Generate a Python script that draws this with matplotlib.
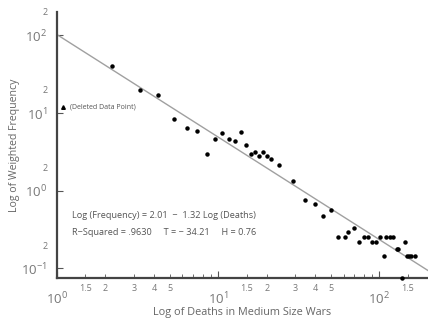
import numpy as np
import matplotlib
matplotlib.use("Agg")
import matplotlib.pyplot as plt
from matplotlib.ticker import FixedLocator, FuncFormatter

plt.rcParams['font.family'] = ['Open Sans', 'DejaVu Sans']
plt.rcParams['mathtext.default'] = 'regular'

# Data
deaths = [2.20, 3.28, 4.24, 5.33, 6.42, 7.41, 8.55, 9.58, 10.6, 11.7, 12.8, 13.9,
          14.9, 16.0, 17.0, 18.0, 19.0, 20.2, 21.3, 23.9, 29.2, 34.7, 40.0, 44.9,
          50.3, 55.6, 61.5, 64.2, 69.9, 75.1, 80.7, 85.4, 90.5, 95.8, 101, 106,
          110, 117, 122, 128, 131, 143, 149, 153, 158, 165, 137]
frequency = [39.8, 19.5, 17.3, 8.49, 6.50, 5.94, 3.00, 4.69, 5.60, 4.69, 4.42, 5.77,
             3.92, 3.00, 3.19, 2.83, 3.19, 2.83, 2.59, 2.16, 1.35, 0.766, 0.680, 0.476,
             0.569, 0.255, 0.255, 0.296, 0.333, 0.220, 0.255, 0.255, 0.220, 0.220, 0.255, 0.145,
             0.255, 0.255, 0.255, 0.179, 0.179, 0.220, 0.145, 0.145, 0.145, 0.145, 0.076]
deleted_x = [1.09]
deleted_y = [11.8]
intercept = 2.01
slope = -1.32

x_major = [1, 10, 100]
x_minor_labeled = [1.5, 2, 3, 4, 5, 15, 20, 30, 40, 50, 150]
y_major = [0.1, 1, 10, 100]
y_minor = [0.2, 2, 20, 200]

fig = plt.figure(figsize=(4.28, 3.23), dpi=100)
ax = fig.add_axes([0.133, 0.139, 0.867, 0.824])
ax.set_xscale('log')
ax.set_yscale('log')
ax.set_xlim(1, 200)
ax.set_ylim(0.075, 200)

txt = '#555555'
# regression line
lx = np.array([1, 200.0])
ax.plot(lx, 10 ** (intercept + slope * np.log10(lx)), color='#a0a0a0', lw=1.0, zorder=2)

ax.plot(deaths, frequency, 'o', color='black', ms=2.2, zorder=3, clip_on=False)
ax.plot(deleted_x, deleted_y, '^', color='black', ms=2.6, zorder=3)
ax.text(1.2, 11.8, '(Deleted Data Point)', fontsize=5.0, color=txt, va='center')

ax.text(1.24, 10 ** -0.323, 'Log (Frequency) = 2.01  \u2212  1.32 Log (Deaths)',
        fontsize=6.6, color=txt, va='center')
ax.text(1.24, 10 ** -0.542, 'R\u2212Squared = .9630     T = \u2212 34.21     H = 0.76',
        fontsize=6.6, color=txt, va='center')

for s in ['top', 'right']:
    ax.spines[s].set_visible(False)
for s in ['left', 'bottom']:
    ax.spines[s].set_color('#444444')
    ax.spines[s].set_linewidth(1.6)

ax.xaxis.set_major_locator(FixedLocator(x_major))
ax.xaxis.set_major_formatter(FuncFormatter(lambda v, p: '$10^{%d}$' % round(np.log10(v))))
minor_x = sorted(set(x_minor_labeled + [k * d for d in [1, 10, 100] for k in range(2, 10) if k * d < 200]))
ax.xaxis.set_minor_locator(FixedLocator(minor_x))
ax.xaxis.set_minor_formatter(FuncFormatter(
    lambda v, p: ('%g' % (v / 10 ** np.floor(np.log10(v) + 1e-9))) if any(abs(v - m) < 1e-6 for m in x_minor_labeled) else ''))

ax.yaxis.set_major_locator(FixedLocator(y_major))
ax.yaxis.set_major_formatter(FuncFormatter(lambda v, p: '$10^{%d}$' % round(np.log10(v))))
ax.yaxis.set_minor_locator(FixedLocator(y_minor))
ax.yaxis.set_minor_formatter(FuncFormatter(lambda v, p: '2'))

ax.tick_params(axis='x', which='major', direction='in', length=5, width=0.8, color='#555555',
               labelsize=9.5, labelcolor='#777777', pad=9)
ax.tick_params(axis='x', which='minor', direction='in', length=3, width=0.6, color='#555555',
               labelsize=6.5, labelcolor='#777777', pad=4)
ax.tick_params(axis='y', which='major', direction='in', length=4, width=0.8, color='#555555',
               labelsize=9.5, labelcolor='#777777', pad=7)
ax.tick_params(axis='y', which='minor', direction='in', length=0, width=0.6,
               labelsize=6.5, labelcolor='#777777', pad=7)

ax.set_xlabel('Log of Deaths in Medium Size Wars', fontsize=7.8, color='#666666', labelpad=0)
ax.set_ylabel('Log of Weighted Frequency', fontsize=7.6, color='#666666')
ax.yaxis.set_label_coords(-0.1, 0.5)

fig.savefig('out.png', dpi=100)
